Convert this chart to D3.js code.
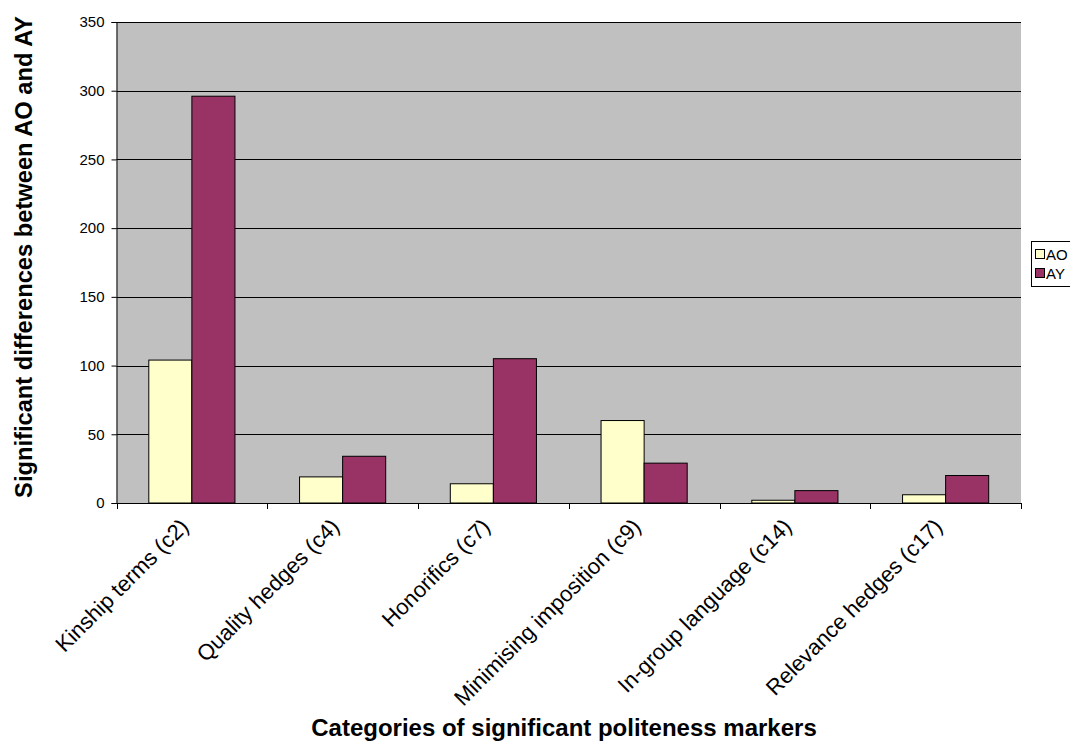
<!DOCTYPE html>
<html>
<head>
<meta charset="utf-8">
<script src="https://cdn.jsdelivr.net/npm/d3@7"></script>
<style>
  body { margin: 0; background: #fff; }
  svg text { font-family: "Liberation Sans", Arial, sans-serif; fill: #000; }
</style>
</head>
<body>
<svg id="chart" width="1070" height="742"></svg>
<script>
// Politeness marker categories and counts for the two groups
const categories = [
  "Kinship terms (c2)",
  "Quality hedges (c4)",
  "Honorifics (c7)",
  "Minimising imposition (c9)",
  "In-group language (c14)",
  "Relevance hedges (c17)"
];
const seriesNames = ["AO", "AY"];
const aoValues = [104, 19, 14, 60, 2, 6];
const ayValues = [296, 34, 105, 29, 9, 20];
const yTicks = [0, 50, 100, 150, 200, 250, 300, 350];
const colors = { AO: "#FFFFCC", AY: "#993366" };

const svg = d3.select("#chart");
const plot = { left: 116.5, right: 1021, top: 22, bottom: 503 };

const x = d3.scaleBand().domain(categories).range([plot.left, plot.right]).padding(0);
const y = d3.scaleLinear().domain([0, 350]).range([plot.bottom, plot.top]);
const barW = x.bandwidth() / 3.5;
const sub = d3.scaleBand().domain(seriesNames).range([0, barW * 2]);

// plot background
svg.append("rect")
  .attr("x", plot.left).attr("y", plot.top)
  .attr("width", plot.right - plot.left).attr("height", plot.bottom - plot.top)
  .attr("fill", "#C0C0C0");

// horizontal gridlines
svg.append("g").selectAll("line").data(yTicks.filter(d => d > 0)).join("line")
  .attr("x1", plot.left).attr("x2", plot.right)
  .attr("y1", d => Math.round(y(d)) + 0.5).attr("y2", d => Math.round(y(d)) + 0.5)
  .attr("stroke", "#000").attr("stroke-width", 1);

// bars
const rows = categories.map((c, i) => ({ cat: c, AO: aoValues[i], AY: ayValues[i] }));
const groups = svg.append("g").selectAll("g").data(rows).join("g")
  .attr("transform", d => `translate(${x(d.cat) + (x.bandwidth() - barW * 2) / 2},0)`);
groups.selectAll("rect").data(d => seriesNames.map(k => ({ key: k, value: d[k] }))).join("rect")
  .attr("x", d => sub(d.key))
  .attr("y", d => y(d.value))
  .attr("width", sub.bandwidth())
  .attr("height", d => y(0) - y(d.value))
  .attr("fill", d => colors[d.key])
  .attr("stroke", "#000").attr("stroke-width", 1);

// y axis
const yAxis = d3.axisLeft(y).tickValues(yTicks).tickSize(5).tickPadding(7);
const gy = svg.append("g").attr("transform", `translate(${plot.left},0)`).call(yAxis);
gy.attr("font-size", 15).attr("font-family", "Liberation Sans, Arial, sans-serif");
gy.select(".domain").attr("stroke", "#000");
gy.selectAll(".tick line").attr("stroke", "#000");

// x axis: baseline and ticks at category boundaries
const gx = svg.append("g");
gx.append("line")
  .attr("x1", plot.left).attr("x2", plot.right + 0.5)
  .attr("y1", plot.bottom + 0.5).attr("y2", plot.bottom + 0.5)
  .attr("stroke", "#000");
const bounds = categories.map(c => x(c)).concat([plot.right]);
gx.selectAll("line.tk").data(bounds).join("line").attr("class", "tk")
  .attr("x1", d => Math.round(d) + 0.5).attr("x2", d => Math.round(d) + 0.5)
  .attr("y1", plot.bottom).attr("y2", plot.bottom + 6)
  .attr("stroke", "#000");

// rotated category labels
gx.selectAll("text").data(categories).join("text")
  .attr("transform", d => `translate(${x(d) + x.bandwidth() / 2 - 2},${plot.bottom + 25}) rotate(-45)`)
  .attr("text-anchor", "end")
  .attr("font-size", 22)
  .text(d => d);

// axis titles
svg.append("text")
  .attr("x", 564).attr("y", 736)
  .attr("text-anchor", "middle")
  .attr("font-size", 24).attr("font-weight", "bold")
  .text("Categories of significant politeness markers");

svg.append("text")
  .attr("transform", `translate(32,257) rotate(-90)`)
  .attr("text-anchor", "middle")
  .attr("font-size", 23.7).attr("font-weight", "bold")
  .text("Significant differences between AO and AY");

// legend
const lg = svg.append("g").attr("transform", "translate(1031,241)");
lg.append("rect").attr("x", 0.5).attr("y", 0.5).attr("width", 60).attr("height", 45)
  .attr("fill", "#fff").attr("stroke", "#000");
const items = lg.selectAll("g").data(seriesNames).join("g")
  .attr("transform", (d, i) => `translate(4,${8 + i * 19})`);
items.append("rect").attr("x", 0.5).attr("y", 0.5).attr("width", 9).attr("height", 9)
  .attr("fill", d => colors[d]).attr("stroke", "#000");
items.append("text").attr("x", 11).attr("y", 10.5).attr("font-size", 15).text(d => d);
</script>
</body>
</html>
